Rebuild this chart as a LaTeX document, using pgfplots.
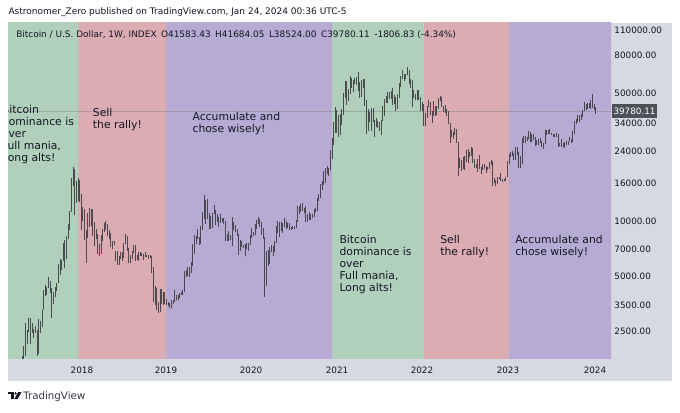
\documentclass[border=0pt]{standalone}
\usepackage{pgfplots}
\pgfplotsset{compat=1.18}
\usepackage{pgfplotstable}
\usepackage{fontspec}
\setmainfont{DejaVu Sans}
\definecolor{bandG}{RGB}{177,208,188}
\definecolor{bandR}{RGB}{220,172,179}
\definecolor{bandP}{RGB}{181,171,211}
\definecolor{axbg}{RGB}{214,217,225}
\definecolor{txt}{RGB}{19,23,34}
\definecolor{barc}{RGB}{62,62,68}
\definecolor{lblbox}{RGB}{78,80,88}

% weekly BTC/USD: week index (0 = 2 Jan 2017), weekly low, weekly high
\pgfplotstableread[row sep=\\]{
w lo hi\\
9 980 1330\\ 10 950 1250\\ 11 890 1080\\ 12 930 1100\\ 13 1070 1200\\ 14 1160 1215\\ 15 1160 1270\\ 16 1240 1350\\
17 1350 1600\\ 18 1550 1850\\ 19 1700 2100\\ 20 1850 2790\\ 21 2150 2550\\ 22 2480 2980\\ 23 2150 2980\\ 24 2450 2780\\
25 2300 2580\\ 26 2450 2680\\ 27 1850 2560\\ 28 1900 2920\\ 29 2450 2850\\ 30 2650 3300\\ 31 3300 4200\\ 32 3900 4480\\
33 3950 4400\\ 34 4300 4980\\ 35 4050 4700\\ 36 2980 4350\\ 37 3550 4100\\ 38 3850 4400\\ 39 4150 4620\\ 40 4600 5850\\
41 5100 6200\\ 42 5400 6180\\ 43 6100 7600\\ 44 5550 7880\\ 45 6200 8300\\ 46 7950 9700\\ 47 9000 11400\\ 48 11200 17200\\
49 15500 19700\\ 50 10800 19200\\ 51 12500 16500\\ 52 12800 17200\\ 53 12700 16800\\ 54 9000 14100\\ 55 10000 12000\\ 56 7900 11700\\
57 5950 9000\\ 58 8100 11100\\ 59 9300 11800\\ 60 9400 11700\\ 61 8300 11700\\ 62 7300 9950\\ 63 8000 9100\\ 64 6600 8500\\
65 6450 7500\\ 66 6600 8450\\ 67 7800 9050\\ 68 8700 9750\\ 69 9000 9990\\ 70 8350 9600\\ 71 8000 8900\\ 72 7250 8600\\
73 7050 7800\\ 74 7450 7750\\ 75 6100 6900\\ 76 5800 6850\\ 77 5750 6480\\ 78 6250 6800\\ 79 6100 6800\\ 80 6300 7650\\
81 7500 8500\\ 82 6900 8250\\ 83 5900 7150\\ 84 5880 6550\\ 85 6250 6850\\ 86 6700 7400\\ 87 6100 7400\\ 88 6150 6550\\
89 6100 6800\\ 90 6450 6800\\ 91 6480 6700\\ 92 6150 6650\\ 93 6350 6750\\ 94 6400 6550\\ 95 6250 6550\\ 96 6300 6550\\
97 5200 6500\\ 98 3650 5600\\ 99 3500 4450\\ 100 3300 4300\\ 101 3150 3650\\ 102 3180 4250\\ 103 3550 4250\\ 104 3500 4100\\
105 3550 4100\\ 106 3500 3750\\ 107 3450 3650\\ 108 3370 3600\\ 109 3350 3700\\ 110 3550 3730\\ 111 3650 4200\\ 112 3700 3950\\
113 3700 3950\\ 114 3800 4050\\ 115 3950 4100\\ 116 3950 4200\\ 117 4100 5350\\ 118 4950 5450\\ 119 5000 5650\\ 120 4950 5650\\
121 5250 6000\\ 122 5700 7550\\ 123 6600 8400\\ 124 7500 8250\\ 125 8000 9100\\ 126 7450 8200\\ 127 7500 9400\\ 128 8950 11250\\
129 10300 13900\\ 130 9650 13050\\ 131 10250 13200\\ 132 9100 11050\\ 133 9100 10650\\ 134 9200 11100\\ 135 10900 12300\\ 136 9500 11450\\
137 9950 10950\\ 138 9350 10600\\ 139 9800 10950\\ 140 9950 10450\\ 141 9600 10350\\ 142 7750 10000\\ 143 7800 8500\\ 144 7800 8850\\
145 7900 8450\\ 146 7300 10500\\ 147 8950 9950\\ 148 8700 9550\\ 149 8300 9100\\ 150 6550 8500\\ 151 6850 7850\\ 152 7250 7800\\
153 7100 7450\\ 154 6450 7500\\ 155 7050 7650\\ 156 6850 7600\\ 157 7400 8450\\ 158 8100 9200\\ 159 8250 8750\\ 160 8450 9600\\
161 9100 10150\\ 162 9700 10500\\ 163 9300 10300\\ 164 8450 9950\\ 165 8000 9200\\ 166 3850 8150\\ 167 4450 6900\\ 168 5700 6950\\
169 5850 7250\\ 170 6750 7450\\ 171 6500 7300\\ 172 6800 7750\\ 173 7650 9450\\ 174 8600 10050\\ 175 8150 9950\\ 176 8800 9850\\
177 8650 9800\\ 178 9350 10400\\ 179 9100 10000\\ 180 9200 9800\\ 181 8950 9750\\ 182 8950 9350\\ 183 9100 9450\\ 184 9050 9400\\
185 9150 10150\\ 186 9950 12100\\ 187 10950 12050\\ 188 11150 12450\\ 189 11400 12500\\ 190 11100 11800\\ 191 9900 12100\\ 192 9900 10900\\
193 10200 11200\\ 194 10150 11000\\ 195 10400 11000\\ 196 10550 11700\\ 197 11200 11750\\ 198 11400 13350\\ 199 12950 14100\\ 200 13300 15950\\
201 14800 16500\\ 202 15800 18800\\ 203 16200 19400\\ 204 18000 19900\\ 205 17600 19400\\ 206 19000 24300\\ 207 21800 28400\\ 208 26000 34800\\
209 30300 41900\\ 210 30400 40100\\ 211 28900 37800\\ 212 29300 38500\\ 213 33400 40900\\ 214 37900 49700\\ 215 46900 58300\\ 216 43000 58000\\
217 45000 52600\\ 218 49300 61800\\ 219 53300 60600\\ 220 50300 58600\\ 221 55600 60000\\ 222 55500 61200\\ 223 51300 64900\\ 224 47000 57500\\
225 47200 58500\\ 226 53000 59500\\ 227 42200 59600\\ 228 30000 45800\\ 229 31000 40900\\ 230 34800 39500\\ 231 31000 41300\\ 232 34900 41300\\
233 28800 35750\\ 234 32700 36600\\ 235 32100 35100\\ 236 31000 34700\\ 237 29300 35400\\ 238 35200 42600\\ 239 37600 46500\\ 240 43800 48150\\
241 43900 50500\\ 242 46300 50500\\ 243 46500 51000\\ 244 42800 52900\\ 245 43400 48800\\ 246 39600 47400\\ 247 40800 49200\\ 248 46900 56500\\
249 53900 62000\\ 250 59600 67000\\ 251 58100 63700\\ 252 59400 63300\\ 253 62300 69000\\ 254 55600 66300\\ 255 53200 59300\\ 256 42000 59100\\
257 46800 51900\\ 258 45500 49500\\ 259 45600 52100\\ 260 45700 52000\\ 261 39650 47600\\ 262 39600 44500\\ 263 32900 43500\\ 264 33000 38900\\
265 36300 42600\\ 266 41700 45850\\ 267 38000 44700\\ 268 34300 40000\\ 269 37300 45400\\ 270 37600 42400\\ 271 38100 42300\\ 272 40900 46900\\
273 45100 48200\\ 274 41900 47200\\ 275 39200 42500\\ 276 38900 42900\\ 277 37600 40700\\ 278 33700 40000\\ 279 26700 34200\\ 280 28700 31300\\
281 28100 30600\\ 282 29300 32300\\ 283 26600 31700\\ 284 17600 26900\\ 285 19600 22000\\ 286 18800 21500\\ 287 19300 22500\\ 288 18900 22700\\
289 21000 24300\\ 290 20700 24600\\ 291 22500 23700\\ 292 22700 25200\\ 293 20800 25000\\ 294 19600 21900\\ 295 19600 20600\\ 296 18500 21900\\
297 19300 22800\\ 298 18100 19700\\ 299 18900 20400\\ 300 19200 20500\\ 301 18200 19900\\ 302 18900 19700\\ 303 19200 21000\\ 304 20200 21500\\
305 15600 21400\\ 306 16200 17200\\ 307 15500 16800\\ 308 16000 17400\\ 309 16900 17400\\ 310 16600 18400\\ 311 16400 17000\\ 312 16450 16950\\
313 16600 17400\\ 314 17300 21400\\ 315 20400 23300\\ 316 22300 23900\\ 317 22600 24200\\ 318 21450 23400\\ 319 21500 25200\\ 320 22800 25250\\
321 19600 23900\\ 322 19600 22600\\ 323 20600 28400\\ 324 26600 29000\\ 325 26600 29200\\ 326 27200 28800\\ 327 28100 31000\\ 328 27100 30500\\
329 26900 30000\\ 330 27700 29800\\ 331 25800 28900\\ 332 26100 27600\\ 333 25900 28000\\ 334 26600 28400\\ 335 25400 27400\\ 336 24800 26800\\
337 26200 31400\\ 338 29600 31300\\ 339 29700 31400\\ 340 29900 31800\\ 341 29500 30400\\ 342 28900 30000\\ 343 28700 29800\\ 344 28700 30200\\
345 25200 29700\\ 346 25800 26800\\ 347 25400 28200\\ 348 25400 26500\\ 349 24900 27000\\ 350 26000 27500\\ 351 26000 27300\\ 352 27200 28600\\
353 26500 28000\\ 354 26900 31000\\ 355 29800 35200\\ 356 33900 35900\\ 357 34500 38000\\ 358 34800 37950\\ 359 35600 38400\\ 360 37000 40200\\
361 39900 44700\\ 362 40200 43500\\ 363 40600 44300\\ 364 41300 43800\\ 365 40800 45900\\ 366 41500 49000\\ 367 40300 43500\\ 368 38524 41684\\
}\btc

\begin{document}
\begin{tikzpicture}
\begin{scope}[x=0.75pt,y=0.75pt]
\useasboundingbox (0,0) rectangle (680,412);
\fill[white] (0,0) rectangle (680,412);
\fill[axbg] (8,31) rectangle (671.7,53.7);
\fill[axbg] (611,53.7) rectangle (671.7,389.3);
\end{scope}
\begin{axis}[
  at={(6pt,40.275pt)}, anchor=south west, scale only axis,
  width=452.25pt, height=251.7pt,
  xmin=9.28, xmax=377.28,
  ymode=log, ymin=1790, ymax=120560,
  axis x line*=bottom, axis y line*=right,
  axis line style={draw=none},
  major tick length=0pt, minor tick length=0pt,
  xtick={54.4,105.7,157.6,210.1,261.9,314.4,367.5},
  xticklabels={2018,2019,2020,2021,2022,2023,2024},
  ytick={2500,3500,5000,7000,10000,16000,24000,34000,50000,80000,110000},
  yticklabels={2500.00,3500.00,5000.00,7000.00,10000.00,16000.00,24000.00,34000.00,50000.00,80000.00,110000.00},
  ticklabel style={font=\fontsize{6.6}{7}\selectfont, text=txt},
  xticklabel style={anchor=center, yshift=-9pt},
  yticklabel style={anchor=west, xshift=2.4pt, inner sep=0pt},
]
\addplot[fill=bandG, draw=none] coordinates {(0,1000) (52,1000) (52,200000) (0,200000)} -- cycle;
\addplot[fill=bandR, draw=none] coordinates {(52,1000) (105.7,1000) (105.7,200000) (52,200000)} -- cycle;
\addplot[fill=bandP, draw=none] coordinates {(105.7,1000) (207,1000) (207,200000) (105.7,200000)} -- cycle;
\addplot[fill=bandG, draw=none] coordinates {(207,1000) (263.2,1000) (263.2,200000) (207,200000)} -- cycle;
\addplot[fill=bandR, draw=none] coordinates {(263.2,1000) (315,1000) (315,200000) (263.2,200000)} -- cycle;
\addplot[fill=bandP, draw=none] coordinates {(315,1000) (400,1000) (400,200000) (315,200000)} -- cycle;
\addplot[color=gray, line width=0.4pt, opacity=0.45] coordinates {(0,39780.11) (400,39780.11)};
\addplot[draw=none, mark=none,
  error bars/.cd, y dir=plus, y explicit, error mark=none,
  error bar style={draw=barc, line width=0.65pt, opacity=0.9}]
  table[x=w, y=lo, y error expr=\thisrow{hi}-\thisrow{lo}] {\btc};
\end{axis}
\begin{scope}[x=0.75pt,y=0.75pt]
% annotations
\begin{scope}[every node/.style={inner sep=0pt, anchor=north west, align=left, text=txt, font=\fontsize{8.1}{8.9}\selectfont}]
\node at (1.7,306.9) {Bitcoin\\dominance is\\over\\Full mania,\\Long alts!};
\node at (92.7,304.2) {Sell\\the rally!};
\node at (192.3,300.2) {Accumulate and\\chose wisely!};
\node at (339.3,176.9) {Bitcoin\\dominance is\\over\\Full mania,\\Long alts!};
\node at (440,176.9) {Sell\\the rally!};
\node at (515,176.9) {Accumulate and\\chose wisely!};
\end{scope}
\fill[white] (0,40) rectangle (7.6,389.3);
% header texts
\node[anchor=base west, inner sep=0pt, text=txt, font=\fontsize{6.75}{7}\selectfont] at (8.3,398) {Astronomer\_Zero published on TradingView.com, Jan 24, 2024 00:36 UTC-5};
\node[anchor=base west, inner sep=0pt, text=txt, font=\fontsize{6.7}{7}\selectfont] at (16,374.3) {Bitcoin / U.S. Dollar, 1W, INDEX\enspace O41583.43\enspace H41684.05\enspace L38524.00\enspace C39780.11\enspace -1806.83 (-4.34\%)};
% last price label
\fill[lblbox] (612,294) rectangle (657,308);
\node[inner sep=0pt, text=white, font=\fontsize{6.6}{7}\selectfont] at (634.5,301) {39780.11};
% footer
\fill[txt] (8,20) rectangle (13.8,17.6);
\fill[txt] (10.8,17.6) rectangle (13.8,13);
\fill[txt] (15.6,18.6) circle (1.3);
\fill[txt] (18.2,20) -- (21.6,20) -- (17.6,13) -- (14.4,13) -- cycle;
\node[anchor=base west, inner sep=0pt, text=txt!85, font=\fontsize{7.7}{8}\selectfont] at (23,13) {TradingView};
\end{scope}
\end{tikzpicture}
\end{document}
